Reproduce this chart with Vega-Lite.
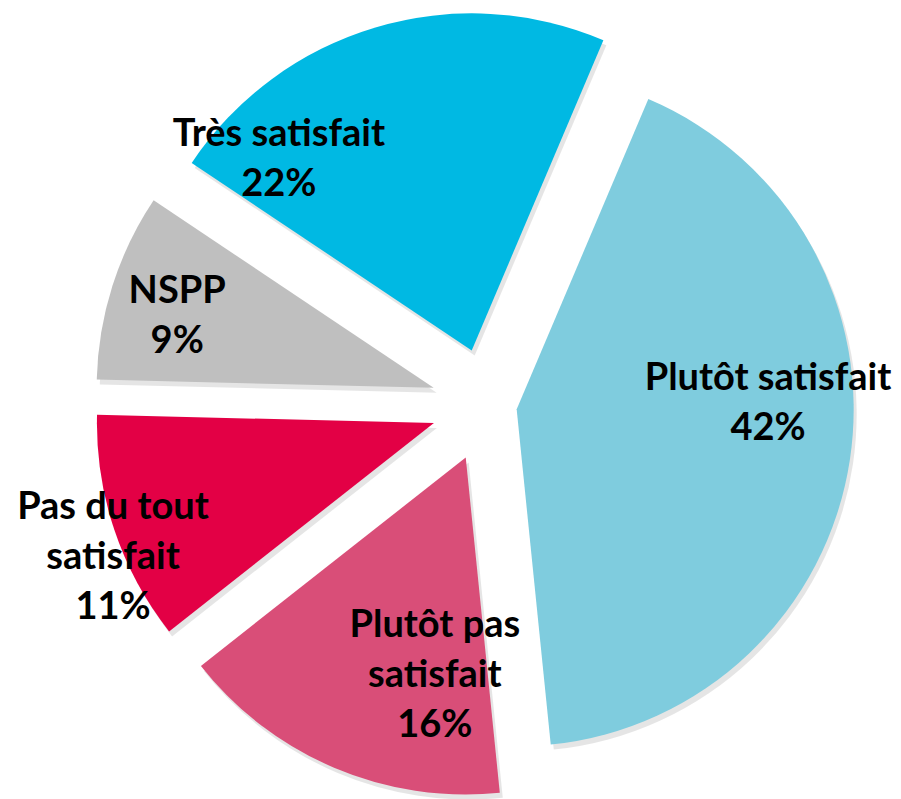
{
  "$schema": "https://vega.github.io/schema/vega-lite/v6.json",
  "width": 826,
  "height": 788,
  "autosize": {"type": "none"},
  "padding": {"left": 75, "right": 0, "top": 11, "bottom": 0},
  "background": "white",
  "view": {"stroke": null},
  "data": {
    "values": [
      {"ord": 1, "cat": "Plutôt satisfait", "pct": 42, "label": "Plutôt satisfait\n42%"},
      {"ord": 2, "cat": "Plutôt pas satisfait", "pct": 16, "label": "Plutôt pas\nsatisfait\n16%"},
      {"ord": 3, "cat": "Pas du tout satisfait", "pct": 11, "label": "Pas du tout\nsatisfait\n11%"},
      {"ord": 4, "cat": "NSPP", "pct": 9, "label": "NSPP\n9%"},
      {"ord": 5, "cat": "Très satisfait", "pct": 22, "label": "Très satisfait\n22%"}
    ]
  },
  "encoding": {
    "theta": {"field": "pct", "type": "quantitative", "stack": true, "scale": {"domain": [0, 100], "range": [0.4014, 6.6846]}},
    "order": {"field": "ord", "type": "quantitative"},
    "detail": {"field": "cat", "type": "nominal"}
  },
  "layer": [
    {
      "mark": {
        "type": "arc",
        "outerRadius": 337,
        "color": "#000000",
        "opacity": 0.1,
        "xOffset": {"expr": "3 + (datum.cat === 'Plutôt satisfait' ? 29 : 57) * sin(((datum.pct_start + datum.pct_end) * 1.8 + 23) * PI / 180)"},
        "yOffset": {"expr": "5 - (datum.cat === 'Plutôt satisfait' ? 29 : 57) * cos(((datum.pct_start + datum.pct_end) * 1.8 + 23) * PI / 180)"}
      }
    },
    {
      "mark": {
        "type": "arc",
        "outerRadius": 337,
        "xOffset": {"expr": "(datum.cat === 'Plutôt satisfait' ? 29 : 57) * sin(((datum.pct_start + datum.pct_end) * 1.8 + 23) * PI / 180)"},
        "yOffset": {"expr": "-(datum.cat === 'Plutôt satisfait' ? 29 : 57) * cos(((datum.pct_start + datum.pct_end) * 1.8 + 23) * PI / 180)"}
      },
      "encoding": {
        "color": {
          "field": "cat",
          "type": "nominal",
          "legend": null,
          "scale": {
            "domain": ["Plutôt satisfait", "Plutôt pas satisfait", "Pas du tout satisfait", "NSPP", "Très satisfait"],
            "range": ["#7FCCDE", "#D94E78", "#E30045", "#BFBFBF", "#00B9E3"]
          }
        }
      }
    },
    {
      "mark": {
        "type": "text",
        "font": "Lato",
        "fontWeight": "bold",
        "fontSize": 38,
        "lineBreak": "\n",
        "lineHeight": 50,
        "align": "center",
        "baseline": "middle",
        "color": "black",
        "dy": {"expr": "(datum.cat === 'Plutôt pas satisfait' || datum.cat === 'Pas du tout satisfait') ? -50 : -25"},
        "radius": {"expr": "datum.cat === 'Plutôt satisfait' ? 280 : datum.cat === 'Plutôt pas satisfait' ? 276 : datum.cat === 'Pas du tout satisfait' ? 405 : datum.cat === 'NSPP' ? 323 : 322"},
        "thetaOffset": {"expr": "(datum.cat === 'Plutôt satisfait' ? -8.8 : datum.cat === 'Plutôt pas satisfait' ? -11.9 : datum.cat === 'Pas du tout satisfait' ? -3.8 : datum.cat === 'NSPP' ? -1.8 : -23.9) * PI / 180"}
      },
      "encoding": {
        "text": {"field": "label", "type": "nominal"}
      }
    }
  ]
}
